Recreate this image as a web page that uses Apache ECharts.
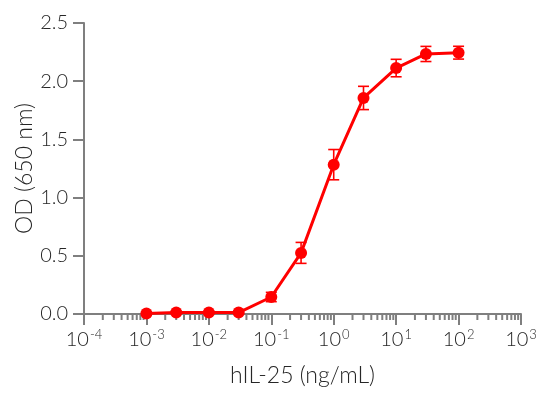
<!DOCTYPE html>
<html><head><meta charset="utf-8">
<script src="https://cdn.jsdelivr.net/npm/echarts@6/dist/echarts.min.js"></script>
<style>html,body{margin:0;padding:0;background:#fff}#c{width:550px;height:394px}</style>
</head><body><div id="c"></div>
<script>
const concentrations = [0.001, 0.003, 0.01, 0.03, 0.1, 0.3, 1, 3, 10, 30, 100];
const odValues = [0.005, 0.012, 0.012, 0.012, 0.146, 0.525, 1.283, 1.856, 2.113, 2.234, 2.245];
const odErrors = [0.01, 0.01, 0.01, 0.01, 0.04, 0.09, 0.13, 0.10, 0.075, 0.065, 0.055];
const yTicks = [0, 0.5, 1.0, 1.5, 2.0, 2.5];
const xDecades = [-4, -3, -2, -1, 0, 1, 2, 3];

const FONT = 'Lato';
const TXT = '#262626';
const AX = '#7f7f7f';
const RED = '#ff0000';

const lineData = concentrations.map((c, i) => [c, odValues[i]]);
const errData = concentrations.map((c, i) => [c, odValues[i] - odErrors[i], odValues[i] + odErrors[i]]);
const minorTicks = [];
for (let d = xDecades[0]; d < xDecades[xDecades.length - 1]; d++) {
  for (let k = 2; k <= 9; k++) minorTicks.push([k * Math.pow(10, d), 0]);
}

const chart = echarts.init(document.getElementById('c'), null, {renderer: 'canvas'});
chart.setOption({
  animation: false,
  grid: {left: 84, right: 29, top: 23, bottom: 80, containLabel: false},
  xAxis: {
    type: 'log', logBase: 10,
    min: Math.pow(10, xDecades[0]), max: Math.pow(10, xDecades[xDecades.length - 1]),
    splitNumber: 7,
    name: 'hIL-25 (ng/mL)', nameLocation: 'middle', nameGap: 50, nameMoveOverlap: false,
    nameTextStyle: {fontFamily: FONT, fontWeight: 300, fontSize: 23, color: TXT},
    axisLine: {lineStyle: {color: AX, width: 2}},
    axisTick: {length: 11, lineStyle: {color: AX, width: 2}},
    splitLine: {show: false},
    axisLabel: {
      margin: 14, color: TXT, fontFamily: FONT, fontWeight: 300, fontSize: 20,
      formatter: v => '10{sup|' + Math.round(Math.log10(v)) + '}',
      rich: {sup: {fontFamily: FONT, fontWeight: 300, fontSize: 13, color: TXT, verticalAlign: 'top', padding: [0, 0, 10, 1]}}
    }
  },
  yAxis: {
    type: 'value', min: yTicks[0], max: yTicks[yTicks.length - 1], interval: 0.5,
    name: 'OD (650 nm)', nameLocation: 'middle', nameGap: 48, nameMoveOverlap: false,
    nameTextStyle: {fontFamily: FONT, fontWeight: 300, fontSize: 23, color: TXT},
    axisLine: {show: true, lineStyle: {color: AX, width: 2}},
    axisTick: {show: true, length: 11, lineStyle: {color: AX, width: 2}},
    splitLine: {show: false},
    axisLabel: {margin: 16, color: TXT, fontFamily: FONT, fontWeight: 300, fontSize: 20, formatter: v => v.toFixed(1)}
  },
  series: [
    {
      type: 'custom', silent: true, clip: false, z: 1,
      data: minorTicks,
      renderItem: (params, api) => {
        const p = api.coord([api.value(0), 0]);
        return {type: 'line', shape: {x1: p[0], y1: p[1], x2: p[0], y2: p[1] + 6},
          style: {stroke: AX, lineWidth: 2}};
      }
    },
    {
      type: 'custom', silent: true, z: 3,
      data: errData,
      renderItem: (params, api) => {
        const lo = api.coord([api.value(0), api.value(1)]);
        const hi = api.coord([api.value(0), api.value(2)]);
        const w = 5.5;
        const st = {stroke: RED, lineWidth: 1.6};
        return {type: 'group', children: [
          {type: 'line', shape: {x1: lo[0], y1: lo[1], x2: hi[0], y2: hi[1]}, style: st},
          {type: 'line', shape: {x1: lo[0] - w, y1: lo[1], x2: lo[0] + w, y2: lo[1]}, style: st},
          {type: 'line', shape: {x1: hi[0] - w, y1: hi[1], x2: hi[0] + w, y2: hi[1]}, style: st}
        ]};
      }
    },
    {
      type: 'line', data: lineData, z: 4,
      symbol: 'circle', symbolSize: 12,
      lineStyle: {color: RED, width: 3},
      itemStyle: {color: RED}
    }
  ]
});
</script></body></html>
